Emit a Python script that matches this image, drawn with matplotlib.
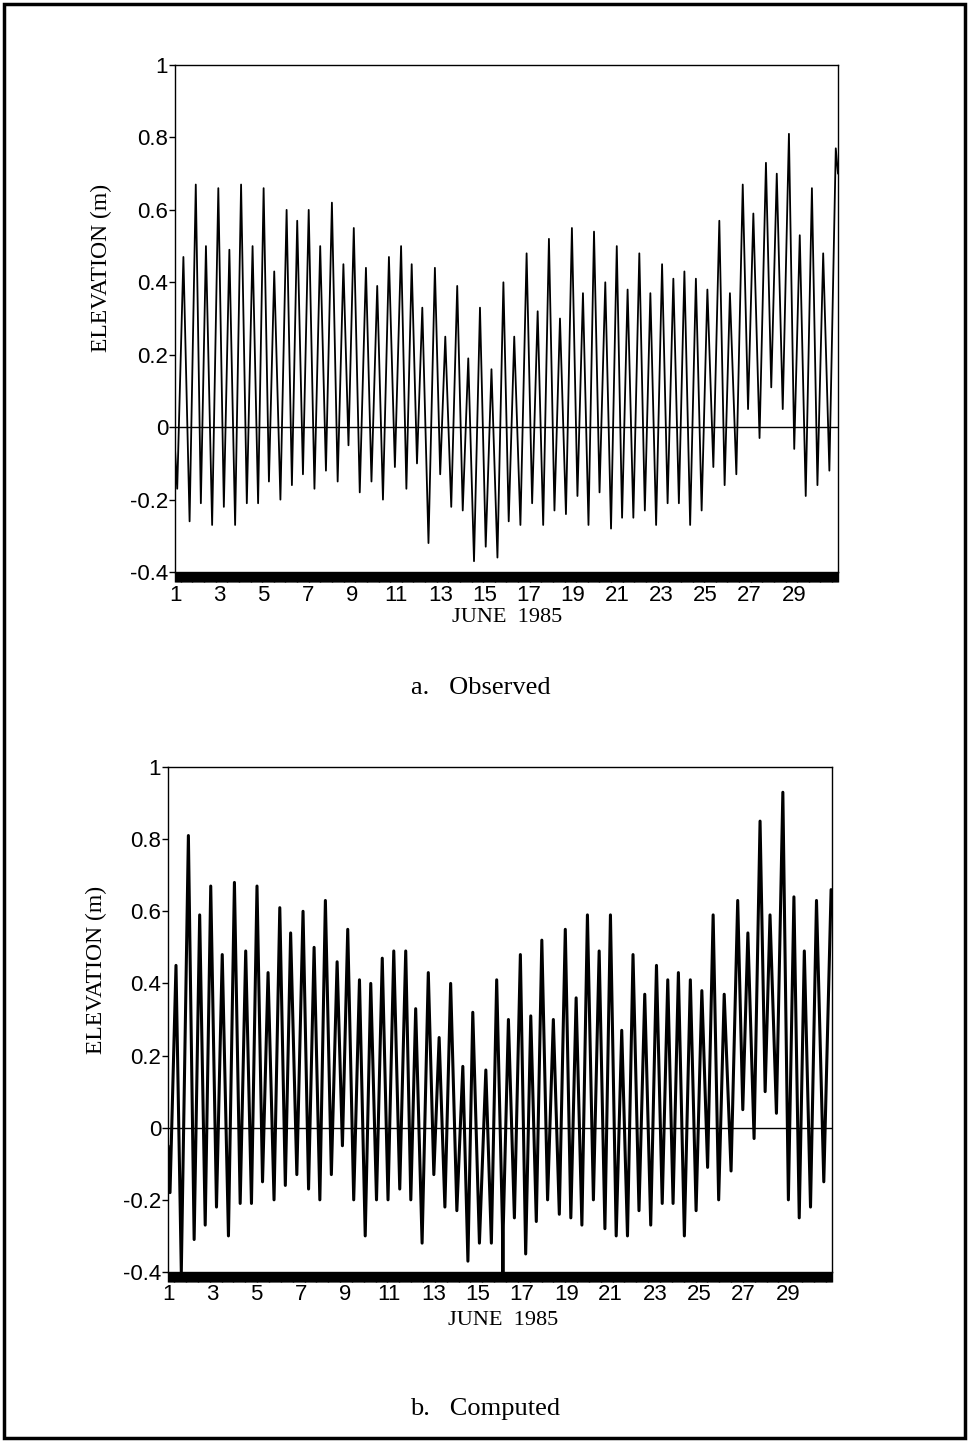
import numpy as np
import matplotlib
matplotlib.use("Agg")
import matplotlib.pyplot as plt
from matplotlib.patches import Rectangle
from matplotlib.ticker import FixedLocator, MultipleLocator

# tide extremes (day of June 1985, elevation in m)
obs_day = [1.00, 1.10, 1.38, 1.66, 1.94, 2.17, 2.40, 2.68, 2.96, 3.21,
           3.46, 3.72, 3.99, 4.25, 4.51, 4.76, 5.01, 5.25, 5.49, 5.77,
           6.05, 6.29, 6.53, 6.79, 7.05, 7.31, 7.57, 7.83, 8.10, 8.36,
           8.62, 8.85, 9.09, 9.36, 9.64, 9.89, 10.15, 10.41, 10.68, 10.95,
           11.23, 11.47, 11.71, 11.95, 12.19, 12.47, 12.76, 13.00, 13.23, 13.50,
           13.77, 14.02, 14.27, 14.53, 14.80, 15.06, 15.32, 15.59, 15.86, 16.10,
           16.35, 16.63, 16.91, 17.16, 17.41, 17.66, 17.92, 18.17, 18.42, 18.69,
           18.96, 19.21, 19.46, 19.71, 19.96, 20.21, 20.47, 20.73, 20.99, 21.23,
           21.48, 21.74, 22.01, 22.26, 22.51, 22.77, 23.04, 23.29, 23.55, 23.80,
           24.05, 24.31, 24.57, 24.83, 25.09, 25.36, 25.63, 25.87, 26.11, 26.40,
           26.69, 26.93, 27.17, 27.45, 27.74, 27.98, 28.23, 28.50, 28.78, 29.02,
           29.27, 29.54, 29.82, 30.07, 30.33, 30.61, 30.90, 31.00]
obs_elev = [-0.06, -0.17, 0.47, -0.26, 0.67, -0.21, 0.50, -0.27, 0.66, -0.22,
            0.49, -0.27, 0.67, -0.21, 0.50, -0.21, 0.66, -0.15, 0.43, -0.20,
            0.60, -0.16, 0.57, -0.13, 0.60, -0.17, 0.50, -0.12, 0.62, -0.15,
            0.45, -0.05, 0.55, -0.18, 0.44, -0.15, 0.39, -0.20, 0.47, -0.11,
            0.50, -0.17, 0.45, -0.10, 0.33, -0.32, 0.44, -0.13, 0.25, -0.22,
            0.39, -0.23, 0.19, -0.37, 0.33, -0.33, 0.16, -0.36, 0.40, -0.26,
            0.25, -0.27, 0.48, -0.21, 0.32, -0.27, 0.52, -0.23, 0.30, -0.24,
            0.55, -0.19, 0.37, -0.27, 0.54, -0.18, 0.40, -0.28, 0.50, -0.25,
            0.38, -0.25, 0.48, -0.23, 0.37, -0.27, 0.45, -0.21, 0.41, -0.21,
            0.43, -0.27, 0.41, -0.23, 0.38, -0.11, 0.57, -0.16, 0.37, -0.13,
            0.67, 0.05, 0.59, -0.03, 0.73, 0.11, 0.70, 0.05, 0.81, -0.06,
            0.53, -0.19, 0.66, -0.16, 0.48, -0.12, 0.77, 0.70]

cmp_day = [1.00, 1.09, 1.36, 1.60, 1.92, 2.18, 2.43, 2.68, 2.93, 3.19,
           3.45, 3.73, 4.00, 4.26, 4.51, 4.77, 5.02, 5.27, 5.52, 5.79,
           6.05, 6.30, 6.54, 6.82, 7.10, 7.35, 7.60, 7.86, 8.11, 8.38,
           8.64, 8.88, 9.12, 9.39, 9.65, 9.91, 10.16, 10.42, 10.68, 10.94,
           11.20, 11.47, 11.74, 11.97, 12.19, 12.48, 12.76, 13.01, 13.25, 13.51,
           13.77, 14.05, 14.32, 14.55, 14.77, 15.07, 15.36, 15.61, 15.85, 16.11,
           16.13, 16.15, 16.38, 16.65, 16.92, 17.16, 17.39, 17.64, 17.89, 18.15,
           18.41, 18.68, 18.95, 19.20, 19.44, 19.70, 19.95, 20.22, 20.48, 20.74,
           20.99, 21.25, 21.50, 21.76, 22.01, 22.28, 22.54, 22.81, 23.07, 23.33,
           23.58, 23.82, 24.06, 24.33, 24.60, 24.86, 25.12, 25.38, 25.63, 25.88,
           26.13, 26.44, 26.74, 26.97, 27.20, 27.48, 27.75, 27.98, 28.20, 28.49,
           28.78, 29.03, 29.28, 29.52, 29.75, 30.03, 30.30, 30.63, 30.96]
cmp_elev = [-0.05, -0.18, 0.45, -0.40, 0.81, -0.31, 0.59, -0.27, 0.67, -0.22,
            0.48, -0.30, 0.68, -0.21, 0.49, -0.21, 0.67, -0.15, 0.43, -0.20,
            0.61, -0.16, 0.54, -0.13, 0.60, -0.17, 0.50, -0.20, 0.63, -0.13,
            0.46, -0.05, 0.55, -0.20, 0.41, -0.30, 0.40, -0.20, 0.47, -0.20,
            0.49, -0.17, 0.49, -0.20, 0.33, -0.32, 0.43, -0.13, 0.25, -0.22,
            0.40, -0.23, 0.17, -0.37, 0.32, -0.32, 0.16, -0.32, 0.41, -0.27,
            -0.40, -0.27, 0.30, -0.25, 0.48, -0.35, 0.31, -0.26, 0.52, -0.20,
            0.30, -0.24, 0.55, -0.25, 0.36, -0.27, 0.59, -0.20, 0.49, -0.28,
            0.59, -0.30, 0.27, -0.30, 0.48, -0.23, 0.37, -0.27, 0.45, -0.21,
            0.41, -0.21, 0.43, -0.30, 0.41, -0.23, 0.38, -0.11, 0.59, -0.20,
            0.37, -0.12, 0.63, 0.05, 0.54, -0.03, 0.85, 0.10, 0.59, 0.04,
            0.93, -0.20, 0.64, -0.25, 0.49, -0.22, 0.63, -0.15, 0.66]

day_ticks = list(range(1, 30, 2))
elev_ticks = [1, 0.8, 0.6, 0.4, 0.2, 0, -0.2, -0.4]
elev_labels = ["1", "0.8", "0.6", "0.4", "0.2", "0", "-0.2", "-0.4"]

SANS = "Liberation Sans"
SERIF = "Liberation Serif"


def tide_panel(fig, rect, days, elev, lw, ylab_pos, xlab_pos, caption, cap_pos):
    ax = fig.add_axes(rect)
    ax.plot(days, elev, color="black", linewidth=lw,
            solid_joinstyle="round", solid_capstyle="round")
    ax.axhline(0, color="black", linewidth=1.0)
    ax.set_xlim(1, 31)
    ax.set_ylim(-0.4, 1)

    ax.xaxis.set_major_locator(FixedLocator(day_ticks))
    ax.xaxis.set_minor_locator(MultipleLocator(1 / 24))
    ax.set_xticklabels([str(d) for d in day_ticks], fontfamily=SANS, fontsize=16)
    ax.yaxis.set_major_locator(FixedLocator(elev_ticks))
    ax.set_yticklabels(elev_labels, fontfamily=SANS, fontsize=16)

    ax.tick_params(axis="x", which="both", direction="out", length=7,
                   width=1.0, pad=2, color="black")
    ax.tick_params(axis="y", which="major", direction="out", length=4,
                   width=1.0, pad=1)
    for sp in ax.spines.values():
        sp.set_linewidth(1.0)

    fig.text(ylab_pos[0], ylab_pos[1], "ELEVATION (m)", rotation=90,
             ha="center", va="center", fontfamily=SERIF, fontsize=17)
    fig.text(xlab_pos[0], xlab_pos[1], "JUNE  1985", ha="center", va="center",
             fontfamily=SERIF, fontsize=16)
    fig.text(cap_pos[0], cap_pos[1], caption, ha="center", va="center",
             fontfamily=SERIF, fontsize=19)
    return ax


fig = plt.figure(figsize=(9.69, 14.42), dpi=100)

tide_panel(fig, [0.1806, 0.6033, 0.6842, 0.3516], obs_day, obs_elev, 1.3,
           (0.1042, 0.8141), (0.523, 0.5721), "a.   Observed", (0.4964, 0.5229))
tide_panel(fig, [0.1734, 0.1179, 0.6852, 0.3502], cmp_day, cmp_elev, 2.2,
           (0.0991, 0.3273), (0.519, 0.0846), "b.   Computed", (0.5005, 0.0229))

# page frame
fig.add_artist(Rectangle((0.004, 0.003), 0.992, 0.994, transform=fig.transFigure,
                         fill=False, edgecolor="black", linewidth=2.5))

fig.savefig("out.png", dpi=100)
